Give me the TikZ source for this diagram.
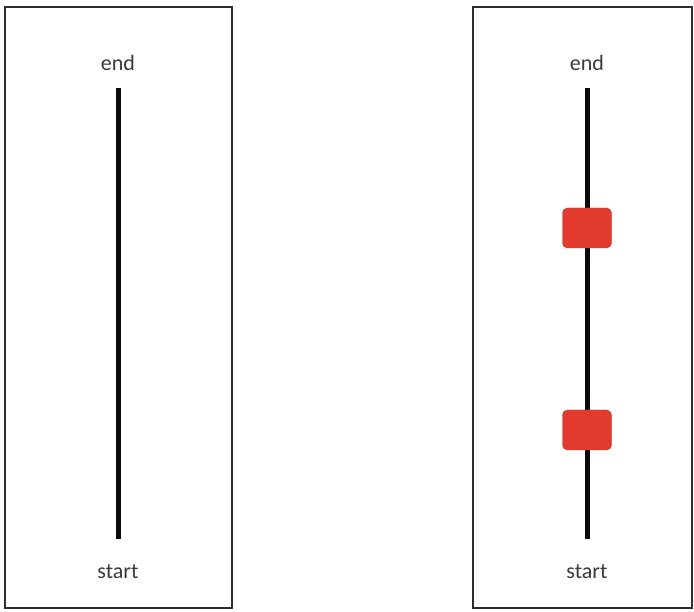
\documentclass[tikz,border=0pt]{standalone}
\usepackage{fontspec}
\setmainfont{Carlito}
\definecolor{frameGray}{HTML}{2E2E2E}
\definecolor{labelGray}{HTML}{3A3A3A}
\definecolor{barBlack}{HTML}{0A0A0A}
\definecolor{knobRed}{HTML}{E23A2C}
\definecolor{knobEdge}{HTML}{B8352E}
\usetikzlibrary{positioning}

\begin{document}
\begin{tikzpicture}[x=1pt, y=-1pt,
    panel/.style={draw=frameGray, line width=1.8pt},
    lbl/.style={text=labelGray, font=\fontsize{22}{26}\selectfont, inner sep=0pt},
    track/.style={draw=barBlack, line width=5pt},
    knob/.style={fill=knobRed, draw=knobEdge, line width=0.4pt, rounded corners=5pt,
                 minimum width=49pt, minimum height=40pt, inner sep=0pt}]
  \useasboundingbox (0,0) rectangle (694,612);

  % left panel: bare track
  \draw[panel] (5,7) rectangle (232,608);
  \node[lbl] (endL) at (118,63) {end};
  \node[lbl] (startL) at (118,572) {start};
  \coordinate (topL) at (118,88);
  \coordinate (botL) at (118,539);
  \draw[track] (topL) -- (botL);

  % right panel: track with two knobs
  \draw[panel] (473,7) rectangle (692,608);
  \node[lbl] (endR) at (587,63) {end};
  \node[lbl] (startR) at (587,572) {start};
  \coordinate (topR) at (587,88);
  \coordinate (botR) at (587,539);
  \draw[track] (topR) -- (botR);
  \node[knob] (knobHi) at (587,228) {};
  \node[knob] (knobLo) at (587,430) {};
\end{tikzpicture}
\end{document}
